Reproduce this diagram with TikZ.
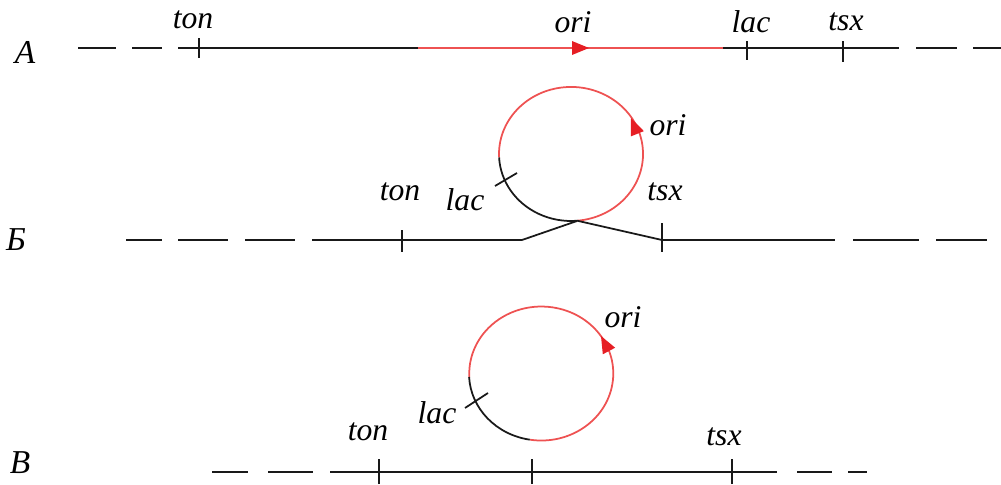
\documentclass[tikz,border=0pt]{standalone}
\usepackage{fontspec}
\setmainfont{Liberation Serif}
\definecolor{linered}{RGB}{238,82,82}
\definecolor{arrowred}{RGB}{230,30,36}

\begin{document}
\begin{tikzpicture}[x=0.02cm, y=0.02cm,
    dna/.style={line width=1.3pt, black!90},
    oriline/.style={line width=1.3pt, linered},
    loopblack/.style={line width=1pt, black!90},
    loopred/.style={line width=1pt, linered},
    gene/.style={font=\fontsize{18}{20}\selectfont\itshape, inner sep=0pt},
    rowname/.style={font=\fontsize{19}{21}\selectfont\itshape, inner sep=0pt}]
    \useasboundingbox (0,0) rectangle (1001,484);

    % row A
    \draw[dna] (78,436) -- (116,436);
    \draw[dna] (132,436) -- (162,436);
    \draw[dna] (178,436) -- (418,436);
    \draw[oriline] (418,436) -- (723,436);
    \draw[dna] (723,436) -- (899,436);
    \draw[dna] (916,436) -- (957,436);
    \draw[dna] (973,436) -- (1001,436);
    \draw[dna] (199,426) -- (199,446);
    \draw[dna] (747,424) -- (747,443);
    \draw[dna] (843,422) -- (843,443);
    \fill[arrowred] (589,436) -- (572,443) -- (572,429) -- cycle;

    \node[rowname] (rowA) at (25,432) {А};
    \node[gene] (tonA) at (193,464) {ton};
    \node[gene] (oriA) at (573,462) {ori};
    \node[gene] (lacA) at (751,462) {lac};
    \node[gene] (tsxA) at (846,462) {tsx};

    % row B
    \draw[dna] (126,244) -- (162,244);
    \draw[dna] (178,244) -- (228,244);
    \draw[dna] (245,244) -- (295,244);
    \draw[dna] (312,244) -- (522,244);
    \draw[loopblack] (522,244) -- (577,263);
    \draw[loopred] (577.3,263.3) arc[start angle=-85, end angle=183, x radius=72, y radius=67];
    \draw[loopblack] (499.1,326.5) arc[start angle=183, end angle=275, x radius=72, y radius=67] -- (662,244);
    \draw[dna] (662,244) -- (835,244);
    \draw[dna] (853,244) -- (919,244);
    \draw[dna] (936,244) -- (987,244);
    \draw[dna] (402,232) -- (402,254);
    \draw[dna] (662,232) -- (662,261);
    \draw[loopblack] (495,298) -- (517,311);
    \fill[arrowred, shift={(631,366)}, rotate=112] (0,0) -- (-17,7) -- (-17,-7) -- cycle;

    \node[rowname] (rowB) at (16,244) {Б};
    \node[gene] (tonB) at (400,292) {ton};
    \node[gene] (lacB) at (465,284) {lac};
    \node[gene] (oriB) at (668,359) {ori};
    \node[gene] (tsxB) at (665,292) {tsx};

    % row C
    \draw[dna] (212,12) -- (248,12);
    \draw[dna] (268,12) -- (313,12);
    \draw[dna] (330,12) -- (777,12);
    \draw[dna] (797,12) -- (832,12);
    \draw[dna] (848,12) -- (867,12);
    \draw[dna] (379,0) -- (379,25);
    \draw[dna] (532,0) -- (532,25);
    \draw[dna] (732,0) -- (732,25);
    \draw[loopred] (530,44.3) arc[start angle=-99, end angle=183, x radius=72, y radius=67];
    \draw[loopblack] (469.1,107) arc[start angle=183, end angle=261, x radius=72, y radius=67];
    \draw[loopblack] (465,76) -- (488,91);
    \fill[arrowred, shift={(601,148)}, rotate=118] (0,0) -- (-17,7) -- (-17,-7) -- cycle;

    \node[rowname] (rowC) at (20,21) {В};
    \node[gene] (tonC) at (368,52) {ton};
    \node[gene] (lacC) at (437,71) {lac};
    \node[gene] (oriC) at (623,167) {ori};
    \node[gene] (tsxC) at (724,47) {tsx};
\end{tikzpicture}
\end{document}
